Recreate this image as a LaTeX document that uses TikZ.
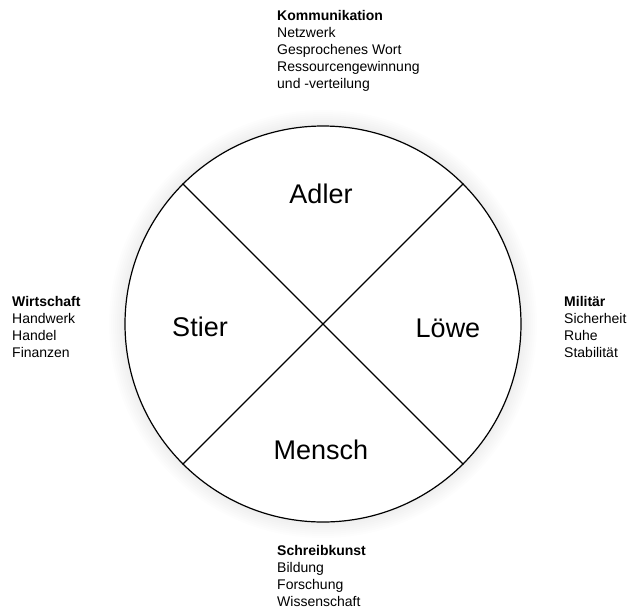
\documentclass[tikz,border=0pt]{standalone}
\usepackage{fontspec}
\setmainfont{Liberation Sans}
\usepackage{tikz}
\usetikzlibrary{positioning, calc}

\begin{document}
\begin{tikzpicture}[x=1pt, y=-1pt,
    sektor/.style={font=\fontsize{27}{32}\selectfont, inner sep=0pt, anchor=base},
    liste/.style={font=\fontsize{14}{17}\selectfont, align=left, inner sep=0pt, anchor=base west}]
    \useasboundingbox (0,0) rectangle (632,611);

    % Schatten
    \foreach \r in {2,4,...,16}
        \fill[black, opacity=0.008] (323,324) circle (198+\r);

    % Kreis
    \node[circle, draw, fill=white, line width=1.2pt, minimum size=396pt, inner sep=0pt] (rad) at (323,324) {};
    \draw[line width=1.1pt] (rad.135) -- (rad.315);
    \draw[line width=1.1pt] (rad.45) -- (rad.225);

    % Sektoren
    \node[sektor] (adler) at (321,203) {Adler};
    \node[sektor] (stier) at (200,336) {Stier};
    \node[sektor] (loewe) at (448,337) {Löwe};
    \node[sektor] (mensch) at (321,459) {Mensch};

    % Bereiche (Grundlinie der letzten Zeile)
    \node[liste] (komm) at (277,88) {\textbf{Kommunikation}\\Netzwerk\\Gesprochenes Wort\\Ressourcengewinnung\\und -verteilung};
    \node[liste] (wirt) at (12,357) {\textbf{Wirtschaft}\\Handwerk\\Handel\\Finanzen};
    \node[liste] (mili) at (564,357) {\textbf{Militär}\\Sicherheit\\Ruhe\\Stabilität};
    \node[liste] (schreib) at (277,606) {\textbf{Schreibkunst}\\Bildung\\Forschung\\Wissenschaft};
\end{tikzpicture}
\end{document}
